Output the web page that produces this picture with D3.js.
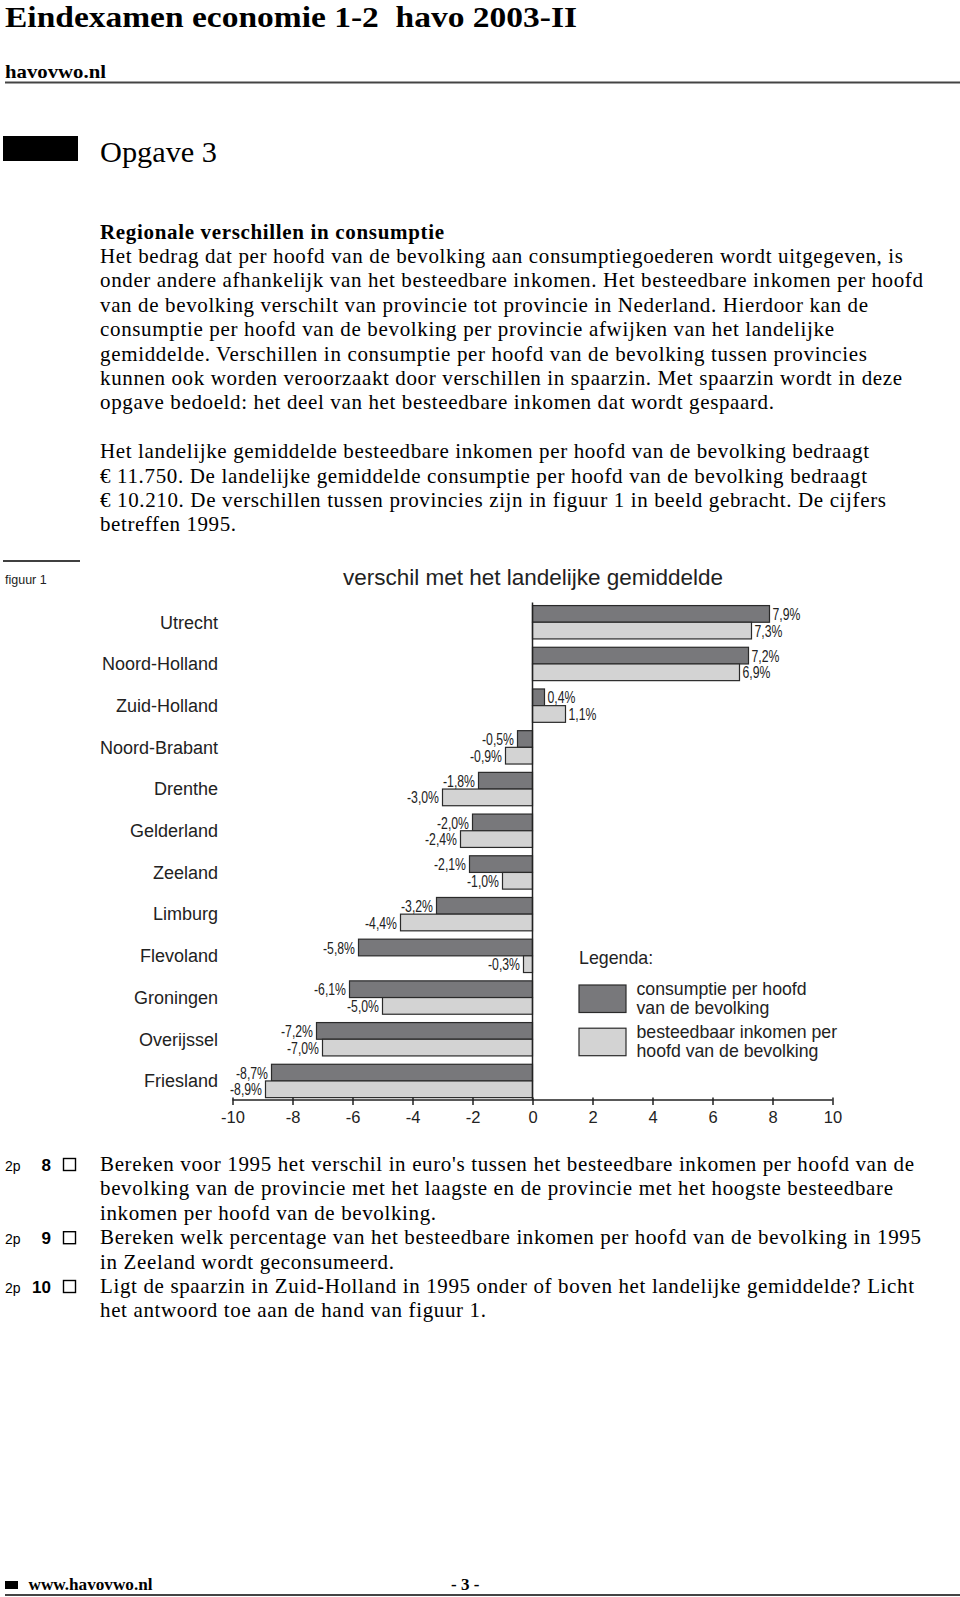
<!DOCTYPE html>
<html><head><meta charset="utf-8">
<script src="https://cdn.jsdelivr.net/npm/d3@7/dist/d3.min.js"></script>
<style>body{margin:0;background:#fff}svg{display:block}</style>
</head><body><svg id="c" width="960" height="1597"></svg>
<script>
// ---------- data ----------
const provinces = ["Utrecht","Noord-Holland","Zuid-Holland","Noord-Brabant","Drenthe","Gelderland","Zeeland","Limburg","Flevoland","Groningen","Overijssel","Friesland"];
const consumptie = [7.9, 7.2, 0.4, -0.5, -1.8, -2.0, -2.1, -3.2, -5.8, -6.1, -7.2, -8.7];
const inkomen    = [7.3, 6.9, 1.1, -0.9, -3.0, -2.4, -1.0, -4.4, -0.3, -5.0, -7.0, -8.9];
const xTicks = [-10,-8,-6,-4,-2,0,2,4,6,8,10];
const seriesNames = ["consumptie","inkomen"];
const legendLabels = [["consumptie per hoofd","van de bevolking"],["besteedbaar inkomen per","hoofd van de bevolking"]];
const chartTitle = "verschil met het landelijke gemiddelde";

const bodyLines = [
 ["Regionale verschillen in consumptie", 444, true],
 ["Het bedrag dat per hoofd van de bevolking aan consumptiegoederen wordt uitgegeven, is", 903],
 ["onder andere afhankelijk van het besteedbare inkomen. Het besteedbare inkomen per hoofd", 923],
 ["van de bevolking verschilt van provincie tot provincie in Nederland. Hierdoor kan de", 868],
 ["consumptie per hoofd van de bevolking per provincie afwijken van het landelijke", 834],
 ["gemiddelde. Verschillen in consumptie per hoofd van de bevolking tussen provincies", 867],
 ["kunnen ook worden veroorzaakt door verschillen in spaarzin. Met spaarzin wordt in deze", 902],
 ["opgave bedoeld: het deel van het besteedbare inkomen dat wordt gespaard.", 774],
 null,
 ["Het landelijke gemiddelde besteedbare inkomen per hoofd van de bevolking bedraagt", 869],
 ["€ 11.750. De landelijke gemiddelde consumptie per hoofd van de bevolking bedraagt", 867],
 ["€ 10.210. De verschillen tussen provincies zijn in figuur 1 in beeld gebracht. De cijfers", 886],
 ["betreffen 1995.", 236]
];
const questions = [
 {nr:"8", lines:[["Bereken voor 1995 het verschil in euro's tussen het besteedbare inkomen per hoofd van de",914],["bevolking van de provincie met het laagste en de provincie met het hoogste besteedbare",893],["inkomen per hoofd van de bevolking.",436]]},
 {nr:"9", lines:[["Bereken welk percentage van het besteedbare inkomen per hoofd van de bevolking in 1995",921],["in Zeeland wordt geconsumeerd.",394]]},
 {nr:"10", lines:[["Ligt de spaarzin in Zuid-Holland in 1995 onder of boven het landelijke gemiddelde? Licht",914],["het antwoord toe aan de hand van figuur 1.",486]]}
];

// ---------- page ----------
const svg = d3.select("#c");
svg.append("rect").attr("width",960).attr("height",1597).attr("fill","#fff");
const serif = "'Liberation Serif','Times New Roman',serif";
const sans = "'Liberation Sans',Arial,sans-serif";

svg.append("text").attr("x",5).attr("y",26.5).attr("font-family",serif).attr("font-weight","bold")
  .attr("font-size",29.5).attr("textLength",572).attr("lengthAdjust","spacingAndGlyphs")
  .attr("xml:space","preserve").style("white-space","pre").text("Eindexamen economie 1-2  havo 2003-II");
svg.append("text").attr("x",5).attr("y",78).attr("font-family",serif).attr("font-weight","bold")
  .attr("font-size",19).attr("textLength",101).attr("lengthAdjust","spacingAndGlyphs").text("havovwo.nl");
svg.append("line").attr("x1",5).attr("x2",960).attr("y1",82.5).attr("y2",82.5).attr("stroke","#444").attr("stroke-width",2);

svg.append("rect").attr("x",3).attr("y",136).attr("width",75).attr("height",25).attr("fill","#000");
svg.append("text").attr("x",100).attr("y",162).attr("font-family",serif).attr("font-size",30)
  .attr("textLength",117).attr("lengthAdjust","spacingAndGlyphs").text("Opgave 3");

const lh = 24.4;
let by = 238.5;
bodyLines.forEach(l => {
  if (l) {
    svg.append("text").attr("x",100).attr("y",by).attr("font-family",serif).attr("font-size",21)
      .attr("font-weight", l[2] ? "bold" : "normal")
      .attr("textLength", l[1]-100).attr("lengthAdjust","spacing").text(l[0]);
  }
  by += lh;
});

// ---------- chart ----------
svg.append("line").attr("x1",3).attr("x2",80).attr("y1",561).attr("y2",561).attr("stroke","#000").attr("stroke-width",1.5);
svg.append("text").attr("x",5).attr("y",584).attr("font-family",sans).attr("font-size",12.5).attr("fill","#222").text("figuur 1");

const x = d3.scaleLinear().domain([-10,10]).range([232.5,832.5]);
const y = d3.scaleBand().domain(provinces).range([601.4,1101.8]).paddingInner(0.2).paddingOuter(0.1);
const ys = d3.scaleBand().domain(seriesNames).range([0,y.bandwidth()]);
const fills = {consumptie:"#78787b", inkomen:"#d3d3d3"};

svg.append("text").attr("x",x(0)+0.5).attr("y",585).attr("text-anchor","middle").attr("font-family",sans)
  .attr("font-size",22.5).attr("fill","#222").text(chartTitle);

const g = svg.append("g");
const rows = provinces.map((p,i)=>({p, vals:[{s:"consumptie",v:consumptie[i]},{s:"inkomen",v:inkomen[i]}]}));
const row = g.selectAll("g.row").data(rows).join("g").attr("class","row")
  .attr("transform",d=>`translate(0,${y(d.p)})`);
row.selectAll("rect").data(d=>d.vals).join("rect")
  .attr("x",d=>x(Math.min(0,d.v))).attr("width",d=>Math.abs(x(d.v)-x(0)))
  .attr("y",d=>ys(d.s)).attr("height",ys.bandwidth())
  .attr("fill",d=>fills[d.s]).attr("stroke","#2a2a2a").attr("stroke-width",1.2);
const fmt = v => v.toFixed(1).replace(".",",") + "%";
row.selectAll("text.val").data(d=>d.vals).join("text").attr("class","val")
  .attr("x",d=> d.v>=0 ? x(d.v)+3 : x(d.v)-3.5)
  .attr("y",d=>ys(d.s)+ys.bandwidth()/2)
  .attr("dy","0.36em")
  .attr("text-anchor",d=> d.v>=0 ? "start":"end")
  .attr("font-family",sans).attr("font-size",17).attr("fill","#222")
  .text(d=>fmt(d.v))
  .each(function(){
    const w = this.getComputedTextLength();
    d3.select(this).attr("textLength", w*0.72).attr("lengthAdjust","spacingAndGlyphs");
  });

// province labels
svg.append("g").selectAll("text").data(provinces).join("text")
  .attr("x",218).attr("y",d=>y(d)+y.bandwidth()/2).attr("dy","0.35em").attr("text-anchor","end")
  .attr("font-family",sans).attr("font-size",18).attr("fill","#222").text(d=>d);

// zero line
svg.append("line").attr("x1",x(0)).attr("x2",x(0)).attr("y1",602.5).attr("y2",1100)
  .attr("stroke","#222").attr("stroke-width",1.5);

// x axis
const ax = svg.append("g").attr("transform","translate(0,1100)")
  .call(d3.axisBottom(x).tickValues(xTicks).tickSize(5).tickSizeOuter(0).tickFormat(d=>String(d)));
ax.select(".domain").attr("stroke","#222").attr("stroke-width",1.5).attr("d",`M${x(-10)},0H${x(10)}`);
ax.selectAll(".tick line").attr("stroke","#222").attr("stroke-width",1.5).attr("y1",-2.5).attr("y2",5);
ax.selectAll(".tick text").attr("font-family",sans).attr("font-size",16.5).attr("fill","#222").attr("y",11);

// legend
svg.append("text").attr("x",579).attr("y",958).attr("dy","0.35em").attr("font-family",sans).attr("font-size",17.8).attr("fill","#222").text("Legenda:");
const lg = svg.append("g").selectAll("g").data(seriesNames).join("g")
  .attr("transform",(d,i)=>`translate(579,${985 + i*43.2})`);
lg.append("rect").attr("width",47).attr("height",27.5).attr("fill",d=>fills[d]).attr("stroke","#2a2a2a").attr("stroke-width",1.2);
lg.each(function(d,i){
  legendLabels[i].forEach((t,j)=>{
    d3.select(this).append("text").attr("x",57.5).attr("y",3.5+j*19.2).attr("dy","0.35em")
      .attr("font-family",sans).attr("font-size",17.7).attr("fill","#222").text(t);
  });
});

// ---------- questions ----------
let qy = 1171;
questions.forEach(q=>{
  svg.append("text").attr("x",5).attr("y",qy).attr("font-family",sans).attr("font-size",14).text("2p");
  svg.append("text").attr("x",51).attr("y",qy).attr("text-anchor","end").attr("font-family",sans).attr("font-weight","bold").attr("font-size",17).text(q.nr);
  svg.append("rect").attr("x",63.5).attr("y",qy-12.5).attr("width",12).attr("height",12).attr("fill","none").attr("stroke","#000").attr("stroke-width",1.4);
  q.lines.forEach(l=>{
    svg.append("text").attr("x",100).attr("y",qy).attr("font-family",serif).attr("font-size",21)
      .attr("textLength",l[1]-100).attr("lengthAdjust","spacing").text(l[0]);
    qy += lh;
  });
});

// ---------- footer ----------
svg.append("rect").attr("x",5).attr("y",1581).attr("width",13).attr("height",8).attr("fill","#000");
svg.append("text").attr("x",28.5).attr("y",1590).attr("font-family",serif).attr("font-weight","bold").attr("font-size",17)
  .attr("textLength",124).attr("lengthAdjust","spacingAndGlyphs").text("www.havovwo.nl");
svg.append("text").attr("x",451).attr("y",1590).attr("font-family",serif).attr("font-weight","bold").attr("font-size",17)
  .attr("xml:space","preserve").style("white-space","pre").text("- 3 -");
svg.append("line").attr("x1",5).attr("x2",960).attr("y1",1595).attr("y2",1595).attr("stroke","#444").attr("stroke-width",2);
</script></body></html>
